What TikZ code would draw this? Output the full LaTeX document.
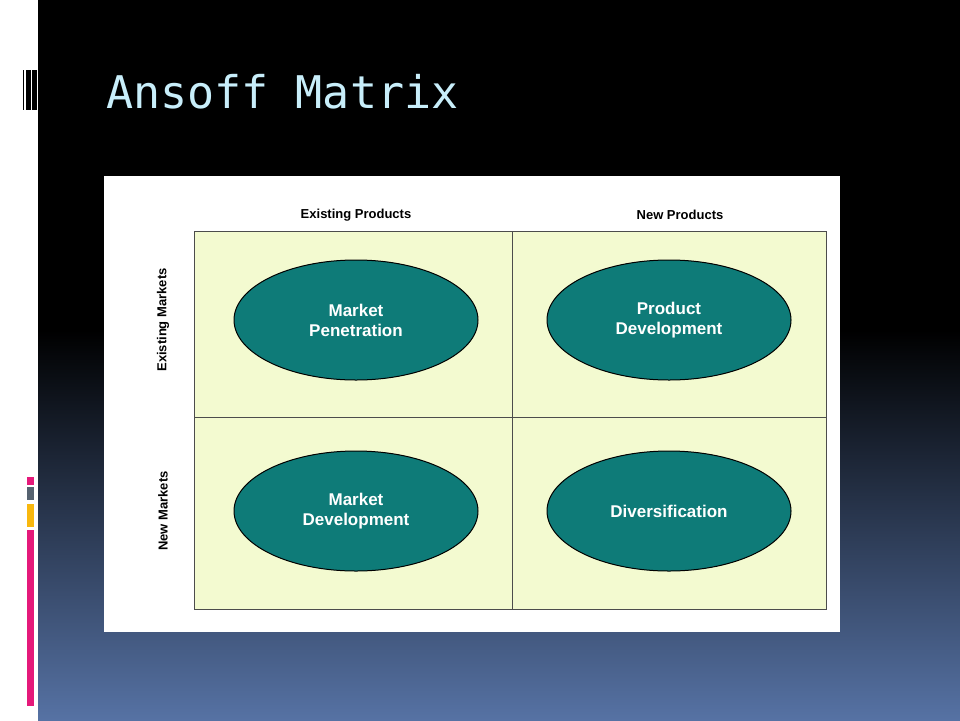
\documentclass[tikz,border=0pt]{standalone}
\usepackage{fontspec}
\setmainfont{Liberation Sans}
\newfontfamily\titlefont{DejaVu Sans Mono}
\usetikzlibrary{positioning,shapes.geometric}
\definecolor{ovalteal}{HTML}{0E7B78}
\definecolor{cellfill}{HTML}{F3FAD0}
\definecolor{titleblue}{HTML}{C8EEFA}
\definecolor{bottomblue}{HTML}{5672A4}
\definecolor{barpink}{HTML}{E5197A}
\definecolor{bargray}{HTML}{566270}
\definecolor{baryellow}{HTML}{F9B80E}
\tikzset{
  strategy/.style={ellipse,draw=black,line width=1pt,fill=ovalteal,minimum width=244pt,
    minimum height=120pt,text=white,font=\fontsize{17}{20}\selectfont\bfseries,align=center},
  header/.style={font=\fontsize{13}{15}\selectfont\bfseries},
  cell/.style={draw=black!70,line width=1pt,fill=cellfill}
}
\begin{document}
\begin{tikzpicture}[x=1pt,y=-1pt]
  \useasboundingbox (0,0) rectangle (960,720);
  % background
  \fill[white] (0,0) rectangle (38,720);
  \fill[black] (38,0) rectangle (960,330);
  \shade[top color=black,bottom color=bottomblue] (38,330) rectangle (960,720);
  % left marks
  \foreach \a/\b in {23/24.3,25.5/26.7,27.3/31,31.7/36.7}
    \fill[black] (\a,70) rectangle (\b,110);
  \fill[barpink] (27,477) rectangle (34,485);
  \fill[bargray] (27,487) rectangle (34,500);
  \fill[baryellow] (27,504) rectangle (34,527);
  \fill[barpink] (27,530) rectangle (34,706);
  % title
  \node[anchor=base west,text=titleblue,font=\titlefont\fontsize{45}{50}\selectfont,inner sep=0pt] (title) at (106,108) {Ansoff Matrix};
  % panel and grid
  \fill[white] (104,176) rectangle (840,632);
  \draw[cell] (194,231) rectangle (512,417);
  \draw[cell] (512,231) rectangle (826,417);
  \draw[cell] (194,417) rectangle (512,609);
  \draw[cell] (512,417) rectangle (826,609);
  \node[header] (ep) at (356,215) {Existing Products};
  \node[header] (np) at (680,215) {New Products};
  \node[header,rotate=90] (em) at (163,320) {Existing Markets};
  \node[header,rotate=90] (nm) at (163,511) {New Markets};
  % strategies
  \node[strategy] (mp) at (356,320) {Market\\Penetration};
  \node[strategy] (pd) at (669,320) {Product\\Development};
  \node[strategy] (md) at (356,511) {Market\\Development};
  \node[strategy] (dv) at (669,511) {Diversification};
\end{tikzpicture}
\end{document}
